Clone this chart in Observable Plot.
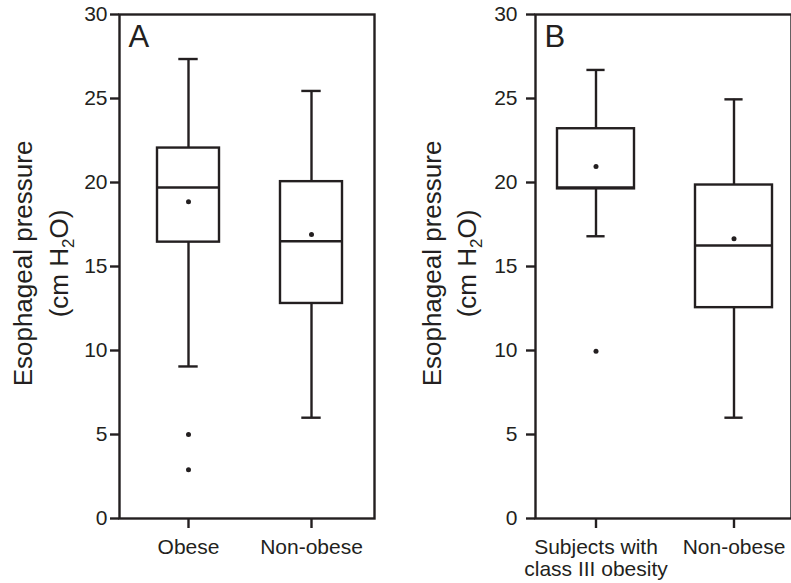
<!DOCTYPE html>
<html>
<head>
<meta charset="utf-8">
<script src="https://cdn.jsdelivr.net/npm/d3@7"></script>
<script src="https://cdn.jsdelivr.net/npm/@observablehq/plot@0.6"></script>
<style>
  html, body { margin: 0; padding: 0; background: #fff; }
  #wrap { position: relative; width: 791px; height: 583px; overflow: hidden; background: #fff; }
  #wrap > div { position: absolute; top: 0; }
  #panelA { left: 0; }
  #panelB { left: 400px; }
</style>
</head>
<body>
<div id="wrap"><div id="panelA"></div><div id="panelB"></div></div>
<script>
// ---------- data ----------
const yTicks = [0, 5, 10, 15, 20, 25, 30];
const yLabel1 = "Esophageal pressure";
const yLabel2 = "(cm H2O)";

// Panel A
const groupsA = ["Obese", "Non-obese"];
const hiA     = [27.35, 25.45];
const q3A     = [22.05, 20.05];
const medianA = [19.7, 16.5];
const q1A     = [16.45, 12.8];
const loA     = [9.05, 6.0];
const meanA   = [18.85, 16.9];
const outlierGroupA = ["Obese", "Obese"];
const outlierValueA = [5.0, 2.9];

// Panel B
const groupsB = ["Subjects with\nclass III obesity", "Non-obese"];
const hiB     = [26.7, 24.95];
const q3B     = [23.2, 19.85];
const medianB = [19.7, 16.25];
const q1B     = [19.62, 12.55];
const loB     = [16.8, 6.0];
const meanB   = [20.95, 16.65];
const outlierGroupB = ["Subjects with\nclass III obesity"];
const outlierValueB = [9.95];

// ---------- drawing ----------
const ink = "#231f20";
const font = "'Liberation Sans', Arial, Helvetica, sans-serif";

function panel(o) {
  const rows = o.groups.map((g, i) => ({
    group: g, hi: o.hi[i], q3: o.q3[i], median: o.median[i],
    q1: o.q1[i], lo: o.lo[i], mean: o.mean[i]
  }));
  const outs = o.outG.map((g, i) => ({group: g, value: o.outV[i]}));
  const sw = 2.4;
  const svg = Plot.plot({
    width: o.width,
    height: 583,
    marginTop: 14,
    marginBottom: 65,
    marginLeft: o.marginLeft,
    marginRight: o.marginRight,
    style: {fontFamily: font, color: ink, background: "transparent", overflow: "visible"},
    x: {domain: o.groups, range: o.xRange, paddingInner: o.pi, paddingOuter: o.po, label: null},
    y: {domain: [0, 30], label: null},
    marks: [
      Plot.ruleX(rows, {x: "group", y1: "q3", y2: "hi", stroke: ink, strokeWidth: sw}),
      Plot.ruleX(rows, {x: "group", y1: "q1", y2: "lo", stroke: ink, strokeWidth: sw}),
      Plot.barY(rows, {x: "group", y1: "q1", y2: "q3", fill: "white", stroke: ink, strokeWidth: sw}),
      Plot.tickY(rows, {x: "group", y: "median", stroke: ink, strokeWidth: sw}),
      Plot.tickY(rows, {x: "group", y: "hi", stroke: ink, strokeWidth: sw, insetLeft: o.capInset, insetRight: o.capInset}),
      Plot.tickY(rows, {x: "group", y: "lo", stroke: ink, strokeWidth: sw, insetLeft: o.capInset, insetRight: o.capInset}),
      Plot.dot(rows, {x: "group", y: "mean", r: 2.5, fill: ink, stroke: null}),
      Plot.dot(outs, {x: "group", y: "value", r: 2.5, fill: ink, stroke: null}),
      Plot.frame({stroke: ink, strokeWidth: sw}),
      Plot.axisY({ticks: yTicks, tickSize: 9, tickPadding: o.yPad, fontSize: 21, stroke: ink, strokeWidth: sw, label: null, tickFormat: d => String(d)}),
      Plot.axisX({tickSize: 10, tickPadding: 9, fontSize: 21, lineHeight: 1.08, stroke: ink, strokeWidth: sw, label: null}),
      Plot.text([yLabel1], {text: d => d, frameAnchor: "left", dx: o.lab1dx, dy: -3, rotate: -90, fontSize: 26, fill: ink, textAnchor: "middle", lineAnchor: "middle"}),
      Plot.text([yLabel2], {text: d => d, frameAnchor: "left", dx: o.lab2dx, dy: -3, rotate: -90, fontSize: 26, fill: ink, textAnchor: "middle", lineAnchor: "middle", className: "ylab2"}),
      Plot.text([o.letter], {text: d => d, frameAnchor: "top-left", dx: 9, dy: 10, fontSize: 31, fill: ink, textAnchor: "start", lineAnchor: "top"})
    ]
  });
  // subscript the "2" of H2O
  d3.select(svg).selectAll(".ylab2 text").each(function() {
    const t = d3.select(this);
    t.text(null);
    t.append("tspan").text("(cm H");
    t.append("tspan").attr("font-size", "17").attr("dy", "6").text("2");
    t.append("tspan").attr("dy", "-6").text("O)");
  });
  return svg;
}

document.getElementById("panelA").appendChild(panel({
  groups: groupsA, hi: hiA, q3: q3A, median: medianA, q1: q1A, lo: loA, mean: meanA,
  outG: outlierGroupA, outV: outlierValueA,
  width: 395, marginLeft: 119, marginRight: 21,
  xRange: [119.9, 378.8], pi: 0.5, po: 0.3, capInset: 21.3,
  yPad: 3, lab1dx: -96, lab2dx: -60, letter: "A"
}));

document.getElementById("panelB").appendChild(panel({
  groups: groupsB, hi: hiB, q3: q3B, median: medianB, q1: q1B, lo: loB, mean: meanB,
  outG: outlierGroupB, outV: outlierValueB,
  width: 391, marginLeft: 135, marginRight: 0,
  xRange: [135.5, 394], pi: 0.44, po: 0.15, capInset: 29.4,
  yPad: 9, lab1dx: -103, lab2dx: -68, letter: "B"
}));
</script>
</body>
</html>
